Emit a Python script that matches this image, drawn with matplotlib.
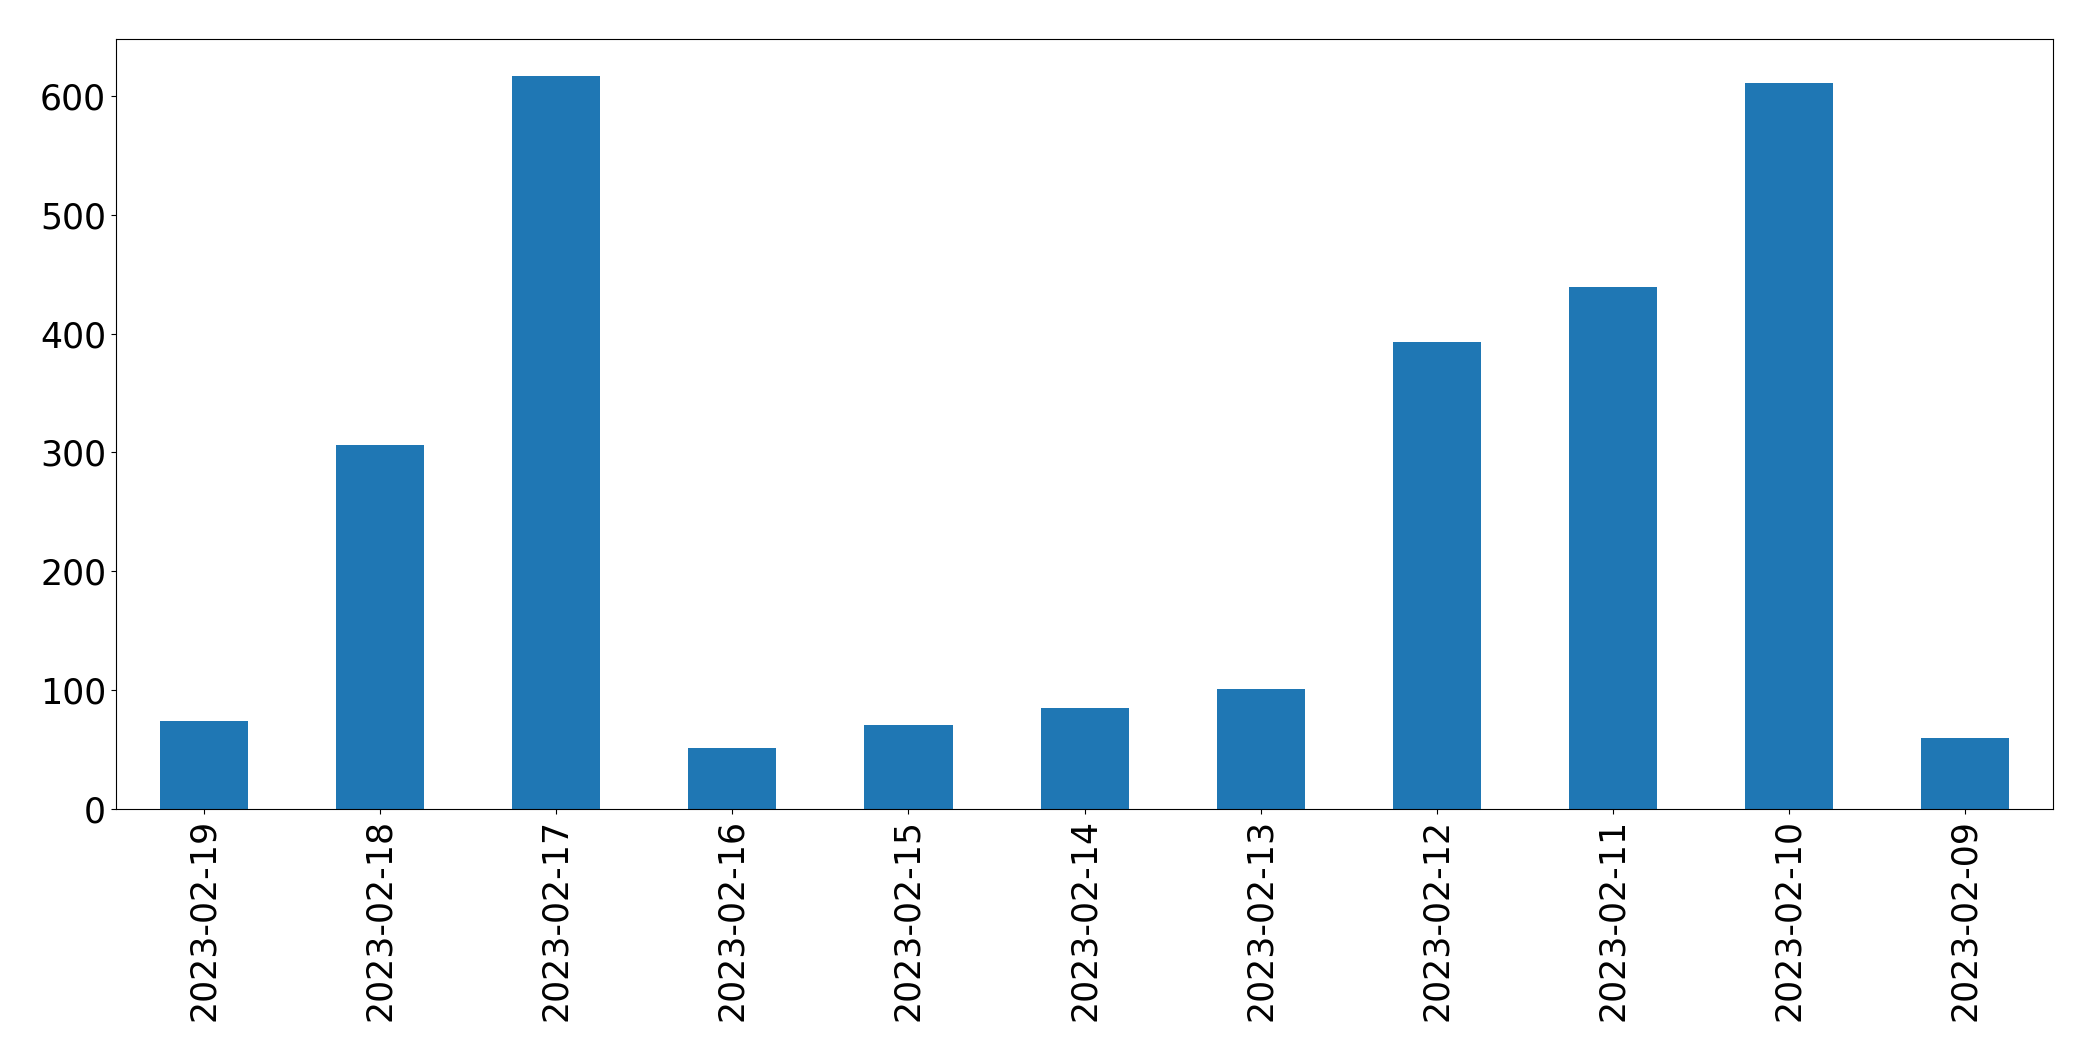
import matplotlib
matplotlib.use("Agg")
import matplotlib.pyplot as plt
import pandas as pd

# 每日数量 (按日期倒序)
dates = ["2023-02-19", "2023-02-18", "2023-02-17", "2023-02-16", "2023-02-15",
         "2023-02-14", "2023-02-13", "2023-02-12", "2023-02-11", "2023-02-10",
         "2023-02-09"]
counts = [74, 306, 617, 51, 71, 85, 101, 393, 439, 611, 60]

plt.rcParams["font.size"] = 25

s = pd.Series(counts, index=dates)

fig = plt.figure(figsize=(20.93, 10.61), dpi=100)
ax = fig.add_axes([0.0554, 0.2375, 0.9256, 0.7257])
s.plot.bar(ax=ax, color="#1f77b4", width=0.5)

ax.set_xlim(-0.5, len(dates) - 0.5)
ax.tick_params(axis="x", labelrotation=90)

fig.savefig("out.png", dpi=100)
